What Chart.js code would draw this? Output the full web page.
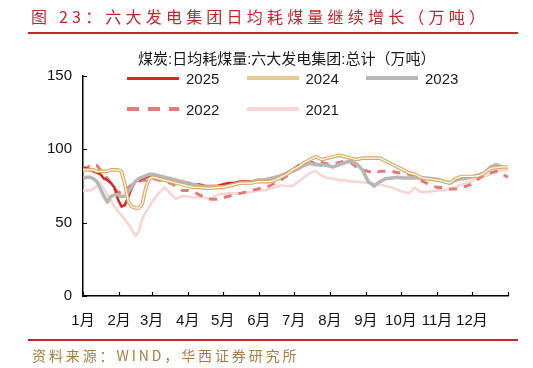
<!DOCTYPE html>
<html lang="zh">
<head>
    <meta charset="UTF-8">
    <meta name="viewport" content="width=device-width, initial-scale=1.0">
    <script src="https://cdn.jsdelivr.net/npm/chart.js"></script>
    <title>六大发电集团日均耗煤量</title>
    <style>
        body {
            margin: 0;
            background: #fff;
            font-family: "Liberation Sans", "Noto Sans CJK SC", sans-serif;
        }

        .wrap {
            position: relative;
            width: 533px;
            height: 368px;
            overflow: hidden;
        }

        #coalChart {
            position: absolute;
            left: 0;
            top: 0;
        }

        .title {
            position: absolute;
            left: 31px;
            top: 4px;
            font: 16px "Noto Sans CJK SC", sans-serif;
            color: #c0262c;
            letter-spacing: 4.2px;
            white-space: nowrap;
        }

        .rule {
            position: absolute;
            left: 28px;
            width: 490px;
            height: 2px;
            background: #c8242b;
        }

        .source {
            position: absolute;
            left: 32px;
            top: 345px;
            font: 14px "Noto Sans CJK SC", sans-serif;
            color: #a57c45;
            letter-spacing: 2.9px;
            white-space: nowrap;
        }

        .legend-title {
            position: absolute;
            left: 138px;
            top: 49px;
            font: 15px "Liberation Sans", "Noto Sans CJK SC", sans-serif;
            color: #1a1a1a;
            white-space: nowrap;
            line-height: 20px;
        }

        .legend-item {
            position: absolute;
            display: flex;
            align-items: center;
            height: 20px;
            font: 15px "Liberation Sans", sans-serif;
            color: #1a1a1a;
        }

        .swatch {
            width: 52px;
            height: 4px;
            margin-right: 7px;
        }
    </style>
</head>
<body>

    <div class="wrap">
        <canvas id="coalChart" width="533" height="368"></canvas>
        <div class="title">图 23：六大发电集团日均耗煤量继续增长（万吨）</div>
        <div class="rule" style="top: 32px;"></div>
        <div class="legend-title">煤炭:日均耗煤量:六大发电集团:总计（万吨）</div>
        <div id="legend"></div>
        <div class="rule" style="top: 339px;"></div>
        <div class="source">资料来源：WIND，华西证券研究所</div>
    </div>

    <script>
        // day of year for each sample
        const days = [0, 3, 6, 9, 12, 15, 18, 21, 24, 27, 30, 33, 36, 39, 42, 45, 48, 51, 54, 57, 60,
            65, 70, 75, 80, 85, 90, 95, 100, 105, 110, 115, 120, 125, 130, 135, 140, 145, 150, 155, 160,
            165, 170, 175, 180, 185, 190, 195, 200, 205, 210, 215, 220, 225, 230, 235, 240, 245, 250, 255, 260,
            265, 270, 275, 280, 285, 290, 295, 300, 305, 310, 315, 320, 325, 330, 335, 340, 345, 350, 355, 360, 365];

        const monthStarts = [0, 31, 59, 90, 120, 151, 181, 212, 243, 273, 304, 334, 365];
        const monthLabels = ["1月", "2月", "3月", "4月", "5月", "6月", "7月", "8月", "9月", "10月", "11月", "12月", ""];
        const yTicks = [0, 50, 100, 150];

        const y2025 = [87, 87, 86, 85, 84, 83, 80, 79, 77, 74, 66, 61, 62, 68, 74, 78, 79, 80, 81, 81, 82,
            80, 79, 78, 79, 78, 77, 76, 76, 75, 75, 75, 76, 77, 77, 78, 78, 78, 79, 79, 80,
            80, 82, 84, 86, 89, 90, 91, 90, 89, null, null, null, null, null, null, null, null, null, null, null,
            null, null, null, null, null, null, null, null, null, null, null, null, null, null, null, null, null, null, null, null, null];

        const y2024 = [86, 86, 86, 86, 85, 85, 85, 85, 86, 86, 86, 85, 76, 64, 61, 60, 60, 63, 74, 80, 81,
            80, 79, 78, 77, 76, 75, 74, 74, 73.5, 73.5, 74, 74, 75, 76, 77, 77, 77, 78, 78, 78,
            79, 81, 83, 86, 88, 91, 93, 95, 93, 94, 95, 96, 95, 94, 93, 94, 94, 94, 94, 92,
            90, 88, 86, 84, 83, 81, 80, 79.5, 79, 78, 77, 80, 81.5, 81.5, 81.5, 82, 84, 87, 87.5, 88, 88];

        const y2023 = [80, 81, 81, 80, 78, 73, 68, 64, 68, 69, 69, 68, 68, 71, 75, 78, 80, 81, 82, 83, 83,
            82, 81, 80, 79, 78, 77, 76, 75, 74.5, 74.5, 74.5, 74.5, 75, 76, 77, 77, 78, 79, 79, 80,
            81, 82, 83.5, 85, 87, 89, 90.5, 89.5, 89.5, 89, 88, 89.5, 91, 92, 90, 86, 78, 75, 78, 80,
            80.5, 81, 80.5, 80.5, 80.5, 80.5, 80.5, 80, 79.5, 78, 77, 79, 80, 80.5, 81.5, 82.5, 84, 88, 89.5, 88, null];

        const y2022 = [88, 87, 89, 90, 89, 86, 83, 80, 77, 73, 71, 70, 72, 74, 76, 77, 78, 79, 79, 80, 80,
            79, 78, 77, 75, 72, 72, 71, 69, 67, 66, 66, 67, 68, 69, 70, 71, 72, 73, 74, 75,
            77, 79, 82, 85, 87, 89, 91, 91, 91, 90, 90, 91, 92, 91, 88, 86, 85, 84, 85, 85,
            85, 84, 84, 83, 81, 79, 77, 75, 74, 74, 73, 73, 74, 75, 77, 80, 83, 84, 85, 83, 81];

        const y2021 = [72, 72, 72, 73, 75, 77, 73, 69, 65, 61, 58, 55, 52, 49, 45, 41, 44, 53, 57, 61, 65,
            70, 74, 70, 66, 68, 68, 67, 68, 67, 66, 69, 69.5, 70, 70, 70, 70.5, 71, 72, 72, 73,
            74, 75.5, 75, 75, 78, 81, 84, 85, 82, 80.5, 80, 79, 79, 78, 78, 77.5, 77, 76.5, 76, 75,
            74, 72.5, 71, 70, 74, 71, 71, 71.5, 72, 72, 73, 74, 76, 77, 79, 80.5, 81.5, 83, 85, 86, 86];

        const seriesNames = ["2025", "2024", "2023", "2022", "2021"];
        const seriesValues = [y2025, y2024, y2023, y2022, y2021];
        const seriesColors = ["#d22b27", "#e6c999", "#b7b7b7", "#e07b79", "#f8d6d6"];

        function points(vals) {
            return days.map((d, i) => ({ x: d, y: vals[i] }));
        }

        // HTML legend, three per row
        const legend = document.getElementById("legend");
        seriesNames.forEach((name, i) => {
            const item = document.createElement("div");
            item.className = "legend-item";
            item.style.left = (127 + (i % 3) * 119.5) + "px";
            item.style.top = (68 + Math.floor(i / 3) * 31) + "px";
            const sw = document.createElement("div");
            sw.className = "swatch";
            if (name === "2022") {
                sw.style.background = "repeating-linear-gradient(90deg, " + seriesColors[i] + " 0 12px, transparent 12px 21px)";
            } else {
                sw.style.background = seriesColors[i];
                if (name === "2025") sw.style.height = "3px";
            }
            item.appendChild(sw);
            item.appendChild(document.createTextNode(name));
            legend.appendChild(item);
        });

        // small inward ticks on both axes
        const innerTicks = {
            id: "innerTicks",
            afterDraw(chart) {
                const { ctx, chartArea, scales } = chart;
                ctx.save();
                ctx.strokeStyle = "#000";
                ctx.lineWidth = 1.2;
                ctx.beginPath();
                monthStarts.forEach(d => {
                    const px = Math.round(scales.x.getPixelForValue(d)) + 0.5;
                    ctx.moveTo(px, chartArea.bottom);
                    ctx.lineTo(px, chartArea.bottom - 4);
                });
                yTicks.forEach(v => {
                    const py = Math.round(scales.y.getPixelForValue(v)) + 0.5;
                    ctx.moveTo(chartArea.left, py);
                    ctx.lineTo(chartArea.left + 4, py);
                });
                ctx.stroke();
                ctx.restore();
            }
        };

        const ctx = document.getElementById("coalChart").getContext("2d");
        new Chart(ctx, {
            type: "line",
            data: {
                datasets: [
                    { label: "2024", data: points(y2024), borderColor: "#fffaf0", borderWidth: 1.3, order: 0 },
                    { label: "2024", data: points(y2024), borderColor: "#d7a866", borderWidth: 3.6, order: 1 },
                    { label: "2023", data: points(y2023), borderColor: seriesColors[2], borderWidth: 3.5, order: 2 },
                    { label: "2025", data: points(y2025), borderColor: seriesColors[0], borderWidth: 2.6, order: 3 },
                    { label: "2022", data: points(y2022), borderColor: seriesColors[3], borderWidth: 3, borderDash: [8, 7], order: 4 },
                    { label: "2021", data: points(y2021), borderColor: seriesColors[4], borderWidth: 2.6, order: 5 }
                ]
            },
            options: {
                responsive: false,
                animation: false,
                layout: { padding: { top: 76, right: 25, left: 0, bottom: 0 } },
                elements: {
                    point: { radius: 0 },
                    line: { tension: 0, borderCapStyle: "butt", borderJoinStyle: "round" }
                },
                plugins: {
                    legend: { display: false },
                    tooltip: { enabled: false }
                },
                scales: {
                    x: {
                        type: "linear",
                        min: 0,
                        max: 365,
                        afterBuildTicks: scale => {
                            scale.ticks = monthStarts.map(v => ({ value: v }));
                        },
                        afterFit: scale => { scale.height = 72; },
                        grid: { display: false, drawTicks: false },
                        border: { display: true, color: "#000", width: 1.5 },
                        ticks: {
                            autoSkip: false,
                            maxRotation: 0,
                            padding: 16,
                            color: "#111",
                            font: { family: "'Liberation Sans', 'Noto Sans CJK SC'", size: 15 },
                            callback: value => monthLabels[monthStarts.indexOf(value)]
                        }
                    },
                    y: {
                        min: 0,
                        max: 150,
                        afterBuildTicks: scale => {
                            scale.ticks = yTicks.map(v => ({ value: v }));
                        },
                        afterFit: scale => { scale.width = 83; },
                        grid: { display: false, drawTicks: false },
                        border: { display: true, color: "#000", width: 1.5 },
                        ticks: {
                            padding: 11,
                            color: "#111",
                            font: { family: "'Liberation Sans'", size: 15 }
                        }
                    }
                }
            },
            plugins: [innerTicks]
        });
    </script>

</body>
</html>
